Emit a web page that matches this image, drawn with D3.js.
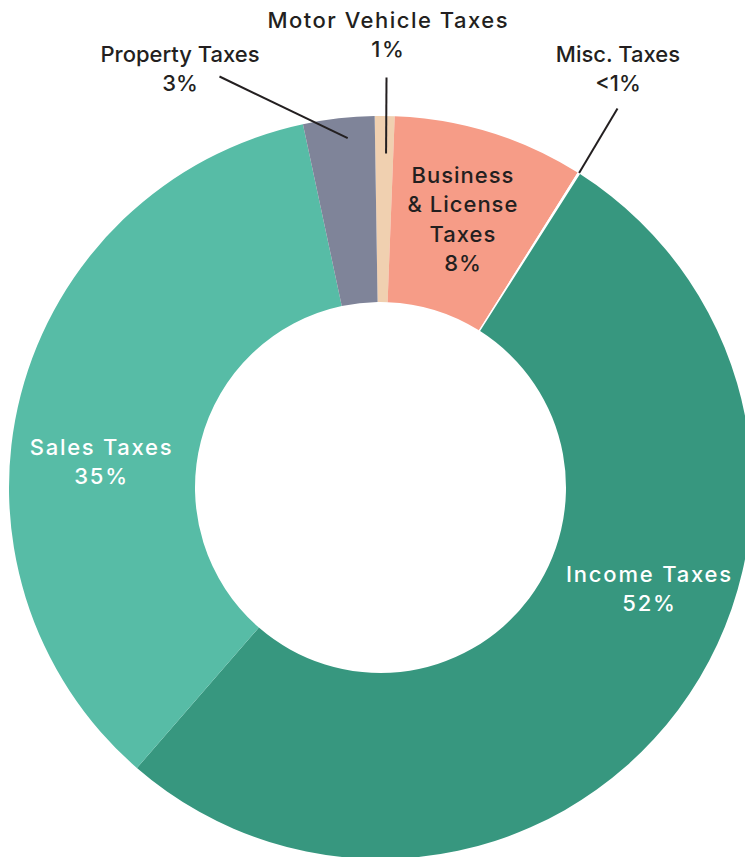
<!DOCTYPE html>
<html>
<head>
<meta charset="utf-8">
<script src="https://cdn.jsdelivr.net/npm/d3@7"></script>
<style>
  body { margin: 0; background: #fff; }
  svg text { font-family: Inter, "Noto Sans", sans-serif; font-weight: 500; font-size: 22px; }
</style>
</head>
<body>
<div class="chart"></div>
<script>
// revenue shares, clockwise from the top
const categories = ['Motor Vehicle Taxes', 'Business & License Taxes', 'Misc. Taxes', 'Income Taxes', 'Sales Taxes', 'Property Taxes'];
const values = [0.86, 8.3, 0.12, 52.4, 35.3, 3.1];
const pctLabels = ['1%', '8%', '<1%', '52%', '35%', '3%'];
const colors = ['#f0d0b0', '#f69c87', '#ffffff', '#37977f', '#57bca6', '#7f8499'];

const width = 745, height = 857;
const cx = 380.5, cy = 487.5;
const outerR = 371.5, innerR = 185.5;
const startDeg = -0.9;

const data = categories.map((c, i) => ({ name: c, value: values[i], pct: pctLabels[i], color: colors[i] }));

const svg = d3.select('.chart')
  .append('svg')
  .attr('width', width)
  .attr('height', height);

const g = svg.append('g')
  .attr('transform', 'translate(' + cx + ',' + cy + ')');

const pie = d3.pie()
  .sort(null)
  .value(d => d.value)
  .startAngle(startDeg * Math.PI / 180)
  .endAngle(startDeg * Math.PI / 180 + 2 * Math.PI);

const arc = d3.arc()
  .innerRadius(innerR)
  .outerRadius(outerR);

const arcs = pie(data);

g.selectAll('path')
  .data(arcs)
  .enter()
  .append('path')
  .attr('d', arc)
  .attr('fill', d => d.data.color);

const polar = (angle, r) => [r * Math.sin(angle), -r * Math.cos(angle)];
const byName = name => arcs.find(a => a.data.name === name);

// labels sitting inside their slice: angle (deg) / radius tweaks
const inside = [
  { name: 'Business & License Taxes', lines: ['Business', '& License', 'Taxes'], fill: '#231f20', deg: null, r: null, ls: 1.0, dy: -2 },
  { name: 'Sales Taxes', lines: ['Sales Taxes'], fill: '#fff', deg: 275.2, r: 281, ls: 1.7, dy: 0 },
  { name: 'Income Taxes', lines: ['Income Taxes'], fill: '#fff', deg: 110.9, r: 287, ls: 1.8, dy: -1 }
];

inside.forEach(l => {
  const a = byName(l.name);
  const p = l.deg === null ? arc.centroid(a) : polar(l.deg * Math.PI / 180, l.r);
  const lines = l.lines.concat([a.data.pct]);
  const lh = 29.3;
  const top = p[1] - (lines.length - 1) * lh / 2 + 7.5 + l.dy;
  const t = g.append('text')
    .attr('text-anchor', 'middle')
    .attr('letter-spacing', l.ls)
    .attr('fill', l.fill);
  lines.forEach((s, i) => {
    t.append('tspan')
      .attr('x', p[0] + l.ls / 2)
      .attr('y', top + i * lh)
      .text(s);
  });
});

// call-out labels for the thin slices
const callouts = [
  { name: 'Motor Vehicle Taxes', frac: 0.6, r: 334, lx: 7, ly: -460, ex: 6, ey: -410, ls: 1.5 },
  { name: 'Property Taxes', frac: 0.6, r: 351, lx: -200.5, ly: -426, ex: -161, ey: -411, ls: 0 },
  { name: 'Misc. Taxes', frac: 0.5, r: 372, lx: 237.5, ly: -426, ex: 237, ey: -379, ls: 0 }
];

callouts.forEach(c => {
  const a = byName(c.name);
  const ang = a.startAngle + c.frac * (a.endAngle - a.startAngle);
  const p = polar(ang, c.r);
  g.append('line')
    .attr('x1', c.ex)
    .attr('y1', c.ey)
    .attr('x2', p[0])
    .attr('y2', p[1])
    .attr('stroke', '#231f20')
    .attr('stroke-width', 2);
  const t = g.append('text')
    .attr('text-anchor', 'middle')
    .attr('letter-spacing', c.ls)
    .attr('fill', '#231f20');
  [a.data.name, a.data.pct].forEach((s, i) => {
    t.append('tspan')
      .attr('x', c.lx + c.ls / 2)
      .attr('y', c.ly + i * 29.5)
      .text(s);
  });
});
</script>
</body>
</html>
